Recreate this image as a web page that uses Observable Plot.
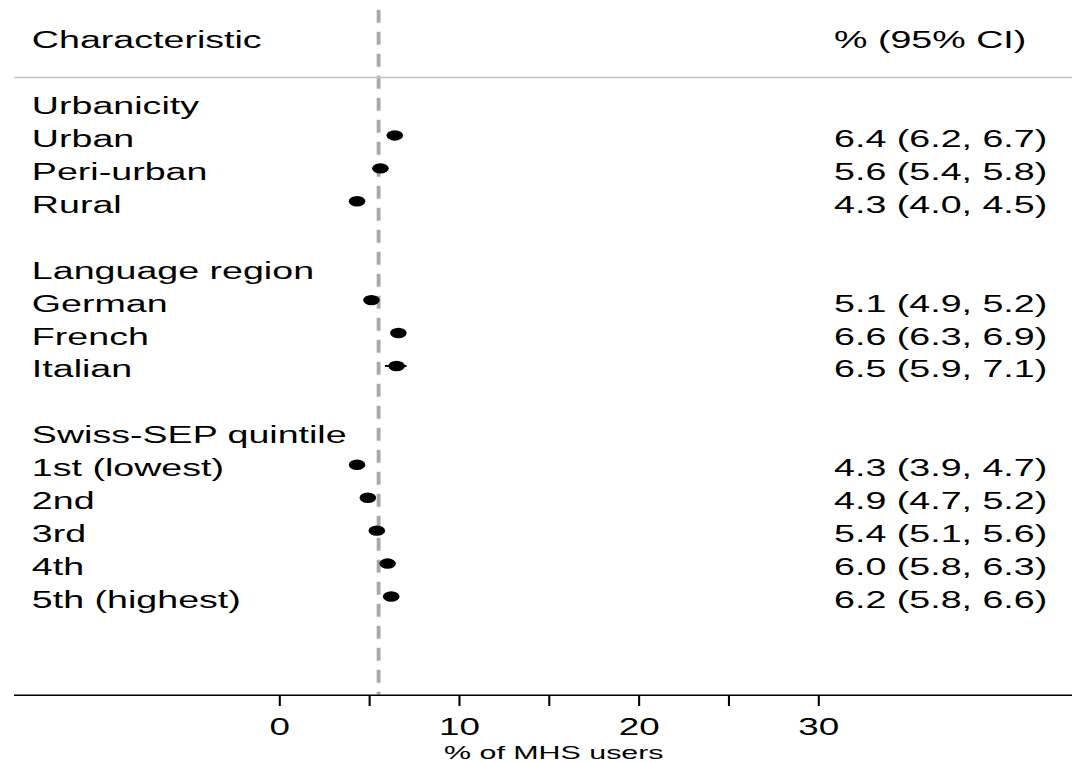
<!DOCTYPE html>
<html><head><meta charset="utf-8">
<script src="https://cdn.jsdelivr.net/npm/d3@7"></script>
<script src="https://cdn.jsdelivr.net/npm/@observablehq/plot@0.6"></script>
<style>
html,body{margin:0;padding:0;background:#fff;overflow:hidden}
#chart{width:1072px;height:763px;overflow:hidden}
#chart svg{display:block;transform:scaleX(1.6);transform-origin:0 0}
</style></head><body><div id="chart"></div>
<script>
// ---- data ----
const rowLabels = ["Urbanicity","Urban","Peri-urban","Rural","","Language region","German","French","Italian","","Swiss-SEP quintile","1st (lowest)","2nd","3rd","4th","5th (highest)"];
const estimates = [null,6.4,5.6,4.3,null,null,5.1,6.6,6.5,null,null,4.3,4.9,5.4,6.0,6.2];
const lowerCI   = [null,6.2,5.4,4.0,null,null,4.9,6.3,5.9,null,null,3.9,4.7,5.1,5.8,5.8];
const upperCI   = [null,6.7,5.8,4.5,null,null,5.2,6.9,7.1,null,null,4.7,5.2,5.6,6.3,6.6];
const overall = 5.5;
const xTicks = [0,5,10,15,20,25,30];
const xTickLabels = ["0","","10","","20","","30"];
const headerLeft = "Characteristic";
const headerRight = "% (95% CI)";
const xTitle = "% of MHS users";

// ---- layout ----
const s = 1.6;                 // horizontal stretch of the whole picture
const W = 1072 / s;
const labelX = -13.8, ciX = 30.85, lineX1 = -14.75, lineX2 = 44.2;
const headerRow = -2.02, sepRow = -0.76, topRow = -2.8, axisRow = 18.0;
const fs = 23.5;

const rows = rowLabels.map((label, i) => ({label, row: i, est: estimates[i], lo: lowerCI[i], hi: upperCI[i]}));
const points = rows.filter(d => d.est != null);
const fmt = v => v.toFixed(1);

const chart = Plot.plot({
  width: W, height: 763,
  marginTop: 0, marginBottom: 68, marginLeft: 0, marginRight: 0,
  style: {fontFamily: "'Liberation Sans', Arial, sans-serif", background: "white", color: "black"},
  x: {domain: [0, 30], range: [279 / s, 818 / s]},
  y: {domain: [0, 15], range: [102, 596], axis: null},
  marks: [
    Plot.ruleX([overall], {y1: topRow, y2: axisRow, stroke: "#a8a8a8", strokeWidth: 2.4, strokeDasharray: "13,9"}),
    Plot.ruleY([sepRow], {x1: lineX1, x2: lineX2, stroke: "#c4c4c4", strokeWidth: 1.6}),
    Plot.ruleY([axisRow], {x1: lineX1, x2: lineX2, stroke: "black", strokeWidth: 1.6}),
    Plot.ruleY(points, {y: "row", x1: "lo", x2: "hi", stroke: "black", strokeWidth: 2}),
    Plot.dot(points, {x: "est", y: "row", r: 5.2, fill: "black", stroke: null}),
    Plot.text(rows, {x: labelX, y: "row", text: "label", textAnchor: "start", fontSize: fs, dy: 4, fill: "black"}),
    Plot.text(points, {x: ciX, y: "row", text: d => `${fmt(d.est)} (${fmt(d.lo)}, ${fmt(d.hi)})`, textAnchor: "start", fontSize: fs, dy: 4, fill: "black"}),
    Plot.text([headerLeft], {x: labelX, y: headerRow, text: d => d, textAnchor: "start", fontSize: fs, dy: 4, fill: "black"}),
    Plot.text([headerRight], {x: ciX, y: headerRow, text: d => d, textAnchor: "start", fontSize: fs, dy: 4, fill: "black"}),
    Plot.axisX({ticks: xTicks, tickFormat: d => xTickLabels[xTicks.indexOf(d)], tickSize: 11, tickPadding: 12, fontSize: 23, label: null, stroke: "black", strokeWidth: 1.3}),
    Plot.text([xTitle], {x: 15.25, y: axisRow, text: d => d, dy: 63.5, lineAnchor: "bottom", fontSize: 19, fill: "black"})
  ]
});
document.getElementById("chart").appendChild(chart);
</script></body></html>
